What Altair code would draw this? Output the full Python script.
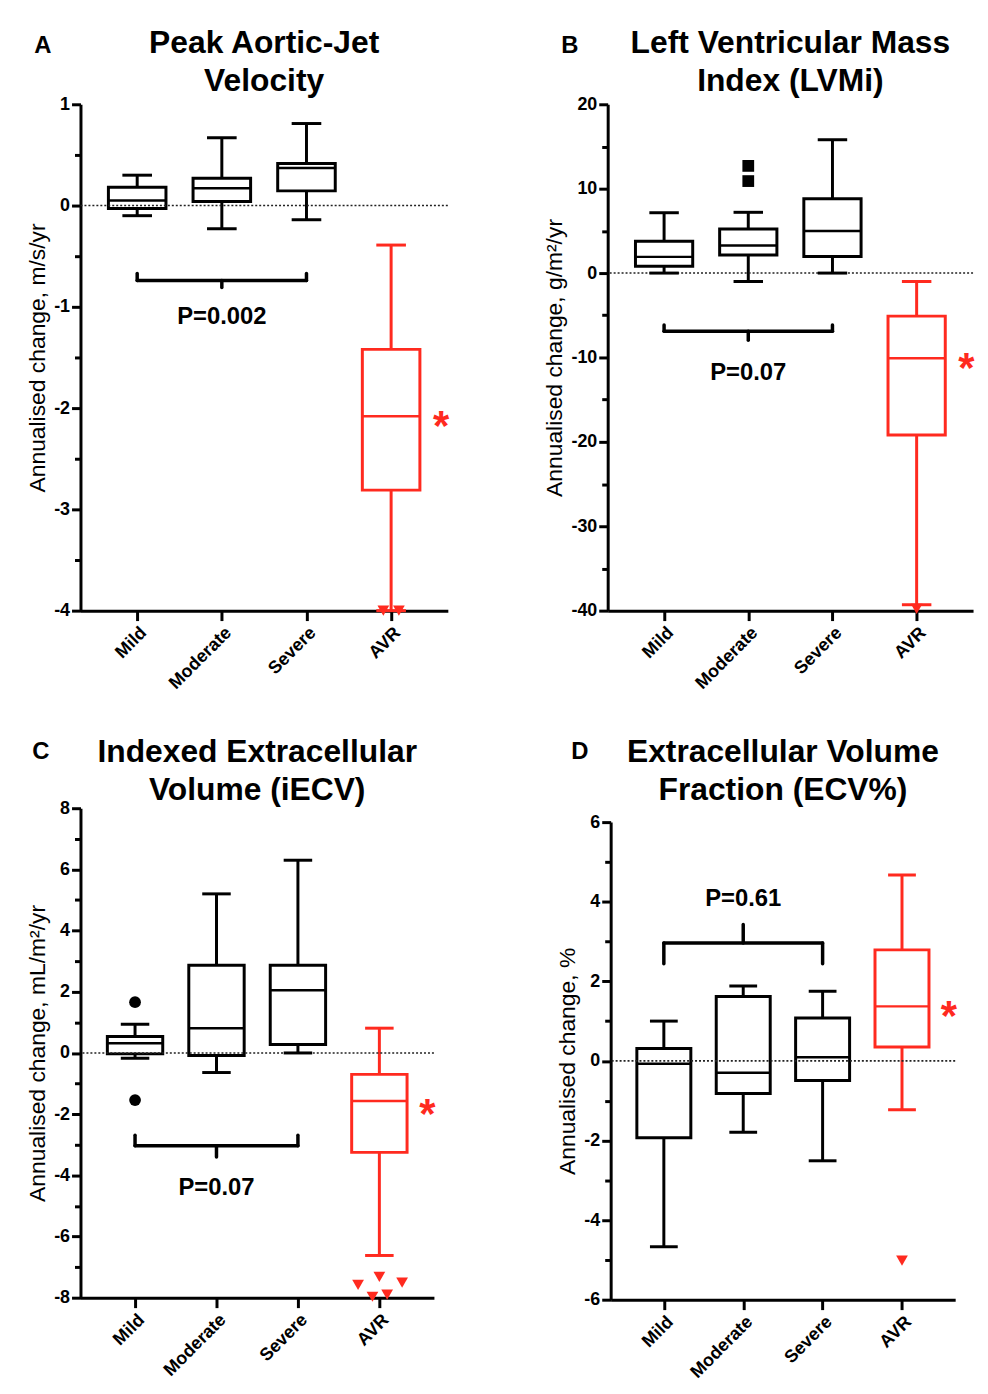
import altair as alt
import pandas as pd

F = "Liberation Sans"
BLACK = "#000000"
RED = "#ff2a1f"

cats = ["Mild", "Moderate", "Severe", "AVR"]

# ---------- Panel A: Peak aortic-jet velocity ----------
a_lo = [-0.10, -0.23, -0.14, -4.00]
a_q1 = [-0.03, 0.04, 0.145, -2.81]
a_med = [0.05, 0.17, 0.37, -2.08]
a_q3 = [0.18, 0.27, 0.415, -1.42]
a_hi = [0.30, 0.67, 0.81, -0.39]
a_out_group = ["AVR", "AVR"]
a_out_val = [-4.0, -4.0]
a_out_jit = [-0.27, 0.27]
a_out_shape = ["triangle-down", "triangle-down"]

# ---------- Panel B: LVMi ----------
b_lo = [0.0, -1.0, 0.0, -39.3]
b_q1 = [0.8, 2.15, 1.97, -19.2]
b_med = [1.92, 3.27, 4.99, -10.1]
b_q3 = [3.77, 5.21, 8.82, -5.1]
b_hi = [7.15, 7.2, 15.8, -1.0]
b_out_group = ["Moderate", "Moderate", "AVR"]
b_out_val = [12.7, 10.9, -39.8]
b_out_jit = [0.0, 0.0, 0.0]
b_out_shape = ["square", "square", "triangle-down"]

# ---------- Panel C: iECV ----------
c_lo = [-0.17, -0.64, 0.0, -6.62]
c_q1 = [-0.03, -0.08, 0.28, -3.25]
c_med = [0.32, 0.81, 2.05, -1.57]
c_q3 = [0.54, 2.87, 2.87, -0.70]
c_hi = [0.94, 5.2, 6.30, 0.81]
c_out_group = ["Mild", "Mild", "AVR", "AVR", "AVR", "AVR", "AVR"]
c_out_val = [1.66, -1.54, -7.58, -7.32, -7.51, -7.97, -7.90]
c_out_jit = [0.0, 0.0, -0.74, 0.0, 0.79, -0.24, 0.27]
c_out_shape = ["circle", "circle", "triangle-down", "triangle-down",
               "triangle-down", "triangle-down", "triangle-down"]

# ---------- Panel D: ECV% ----------
d_lo = [-4.67, -1.79, -2.51, -1.23]
d_q1 = [-1.93, -0.82, -0.49, 0.35]
d_med = [-0.07, -0.30, 0.09, 1.37]
d_q3 = [0.31, 1.62, 1.08, 2.79]
d_hi = [1.00, 1.88, 1.75, 4.67]
d_out_group = ["AVR"]
d_out_val = [-5.02]
d_out_jit = [0.0]
d_out_shape = ["triangle-down"]


def panel(lo, q1, med, q3, hi, og, ov, oj, osh, ydom, ystep, major, ytitle,
          title_lines, width, height, brk, ptext, py, star_y, letter,
          letter_xy, title_dy, top_gap=0):
    box = pd.DataFrame({"group": cats, "lo": lo, "q1": q1, "med": med,
                        "q3": q3, "hi": hi})
    out = pd.DataFrame({"group": og, "v": ov, "j": oj, "shape": osh})
    n = int(round((ydom[1] - ydom[0]) / ystep))
    yvals = [round(ydom[0] + i * ystep, 6) for i in range(n + 1)]

    step = width / 4.34
    boxw = 0.68 * step
    capw = 0.35 * step
    full_h = height + top_gap

    xscale = alt.Scale(type="point", domain=cats, padding=0.67)
    xaxis = alt.Axis(title=None, labelAngle=-45, labelFont=F, labelFontSize=18,
                     labelFontWeight="bold", labelColor=BLACK,
                     domainColor=BLACK, domainWidth=3, tickColor=BLACK,
                     tickWidth=3, tickSize=10, labelPadding=3, grid=False)
    yscale = alt.Scale(domain=ydom, nice=False, zero=False,
                       range=[full_h, top_gap])
    yaxis = alt.Axis(title=ytitle, values=yvals, grid=False,
                     labelExpr=f"datum.value % {major} === 0 ? '' + datum.value : ''",
                     tickSize={"condition": {"test": f"datum.value % {major} === 0",
                                             "value": 9}, "value": 6},
                     labelFont=F, labelFontSize=18, labelFontWeight="bold",
                     labelColor=BLACK, labelPadding=2,
                     domainColor=BLACK, domainWidth=3, tickColor=BLACK,
                     tickWidth=3, titleFont=F, titleFontSize=23,
                     titleFontWeight="normal", titleColor=BLACK,
                     titlePadding=4)

    def X(f):
        return alt.X(f, type="ordinal", scale=xscale, axis=xaxis)

    def Y(f):
        return alt.Y(f, type="quantitative", scale=yscale, axis=yaxis)

    colscale = alt.Scale(domain=cats, range=[BLACK, BLACK, BLACK, RED])
    col = alt.Color("group:N", scale=colscale, legend=None)

    base = alt.Chart(box)
    whisk = base.mark_rule(strokeWidth=3).encode(x=X("group"), y=Y("lo"),
                                                 y2="hi", color=col)
    boxes = base.mark_bar(size=boxw, fill="white", strokeWidth=3).encode(
        x=X("group"), y=Y("q1"), y2="q3",
        stroke=alt.Stroke("group:N", scale=colscale, legend=None))
    zero = alt.Chart(pd.DataFrame({"z": [0]})).mark_rule(
        strokeDash=[2, 2], strokeWidth=1.6, color="#222222").encode(y=Y("z"))
    medl = base.mark_tick(size=boxw, thickness=2.5, opacity=1).encode(
        x=X("group"), y=Y("med"), color=col)
    caplo = base.mark_tick(size=capw, thickness=3, opacity=1).encode(
        x=X("group"), y=Y("lo"), color=col)
    caphi = base.mark_tick(size=capw, thickness=3, opacity=1).encode(
        x=X("group"), y=Y("hi"), color=col)
    pts = alt.Chart(out).mark_point(filled=True, size=140, opacity=1).encode(
        x=X("group"), y=Y("v"),
        xOffset=alt.XOffset("j:Q", scale=alt.Scale(domain=[-1, 1],
                                                   range=[-boxw / 2, boxw / 2])),
        shape=alt.Shape("shape:N", scale=None),
        color=col)

    yl, ye, ym = brk
    bdf = pd.DataFrame({
        "x": ["Mild", "Mild", "Severe", "Moderate"],
        "x2": ["Severe", "Mild", "Severe", "Moderate"],
        "y": [yl, yl, yl, yl],
        "y2": [yl, ye, ye, ym],
    })
    bracket = alt.Chart(bdf).mark_rule(strokeWidth=3.5, color=BLACK,
                                       strokeCap="round").encode(
        x=X("x"), x2="x2", y=Y("y"), y2="y2")
    ptxt = alt.Chart(pd.DataFrame({"group": ["Moderate"], "y": [py],
                                   "t": [ptext]})).mark_text(
        font=F, fontSize=24, fontWeight="bold", color=BLACK,
        baseline="middle").encode(x=X("group"), y=Y("y"), text="t:N")
    star = alt.Chart(pd.DataFrame({"group": ["AVR"], "y": [star_y],
                                   "t": ["*"]})).mark_text(
        font=F, fontSize=42, fontWeight="bold", color=RED,
        baseline="alphabetic", dx=0.59 * step, dy=24).encode(
        x=X("group"), y=Y("y"), text="t:N")
    let = alt.Chart(pd.DataFrame({"t": [letter]})).mark_text(
        font=F, fontSize=24, fontWeight="bold", color=BLACK,
        baseline="middle").encode(x=alt.value(letter_xy[0]),
                                  y=alt.value(letter_xy[1]), text="t:N")

    return alt.layer(whisk, boxes, zero, medl, caplo, caphi, pts, bracket,
                     ptxt, star, let).properties(
        width=width, height=full_h,
        title=alt.TitleParams(title_lines, font=F, fontSize=32,
                              fontWeight="bold", color=BLACK, anchor="middle",
                              frame="group", lineHeight=39, offset=4,
                              dy=title_dy))


A = panel(a_lo, a_q1, a_med, a_q3, a_hi, a_out_group, a_out_val, a_out_jit,
          a_out_shape, [-4, 1], 0.5, 1, "Annualised change, m/s/yr",
          ["Peak Aortic-Jet", "Velocity"], 370, 510,
          (-0.74, -0.67, -0.81), "P=0.002", -1.1, -2.08, "A", (-38, -59), 69)
B = panel(b_lo, b_q1, b_med, b_q3, b_hi, b_out_group, b_out_val, b_out_jit,
          b_out_shape, [-40, 20], 5, 10, "Annualised change, g/m²/yr",
          ["Left Ventricular Mass", "Index (LVMi)"], 368, 510,
          (-6.9, -6.15, -7.95), "P=0.07", -11.8, -10.1, "B", (-38, -59), 69)
C = panel(c_lo, c_q1, c_med, c_q3, c_hi, c_out_group, c_out_val, c_out_jit,
          c_out_shape, [-8, 8], 1, 2, "Annualised change, mL/m²/yr",
          ["Indexed Extracellular", "Volume (iECV)"], 356, 493,
          (-3.03, -2.69, -3.4), "P=0.07", -4.43, -1.67, "C", (-40, -57), 72)
D = panel(d_lo, d_q1, d_med, d_q3, d_hi, d_out_group, d_out_val, d_out_jit,
          d_out_shape, [-6, 6], 1, 2, "Annualised change, %",
          ["Extracellular Volume", "Fraction (ECV%)"], 347, 481,
          (2.96, 2.44, 3.43), "P=0.61", 4.06, 1.37, "D", (-31, -57), 72,
          top_gap=14)

row1 = alt.hconcat(A, B, spacing=94)
row2 = alt.hconcat(C, D, spacing=121)
chart = alt.vconcat(row1, row2, spacing=43).properties(
    padding={"left": 18, "top": 14, "right": 5, "bottom": 5},
    background="white",
).configure_view(stroke=None)

chart.save("out.html", embed_options={"renderer": "svg", "actions": False})
